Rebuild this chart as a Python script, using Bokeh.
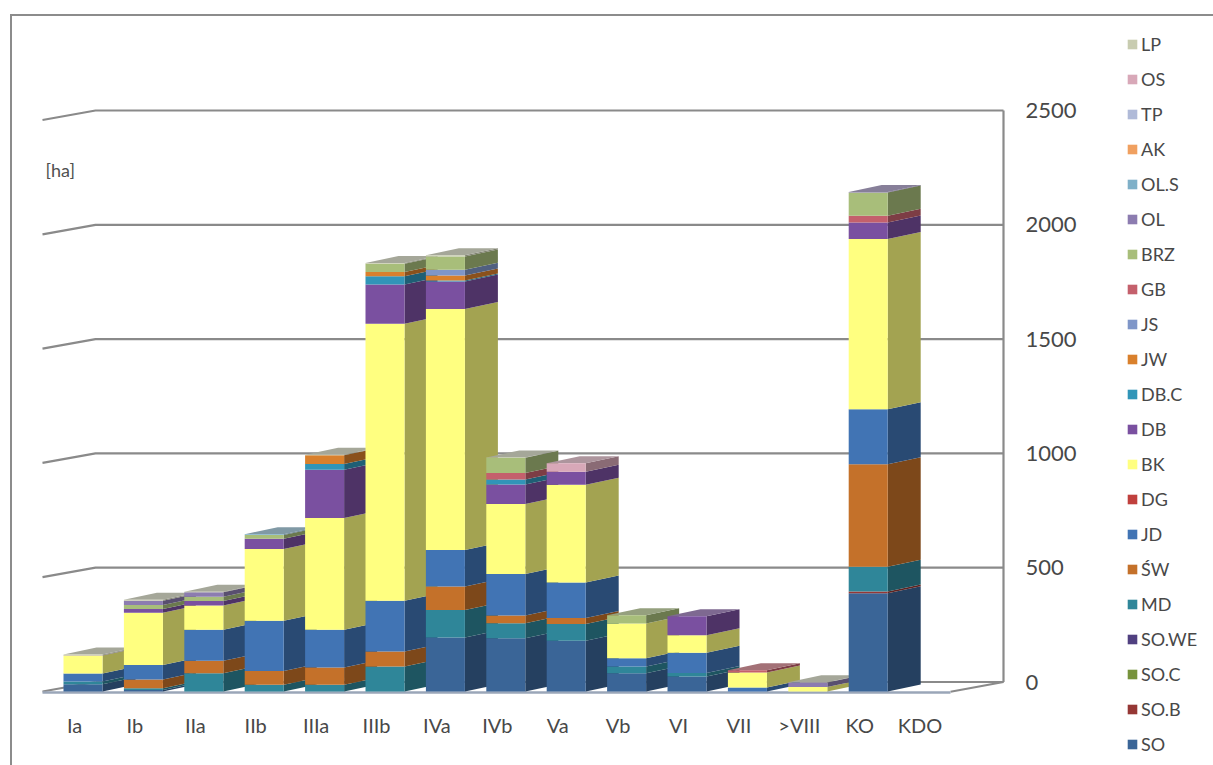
import numpy as np
from bokeh.embed import file_html
from bokeh.models import ColumnDataSource, FixedTicker, Legend, LegendItem, LinearAxis, Range1d
from bokeh.plotting import figure
from bokeh.resources import INLINE

# Age classes along the horizontal axis
categories = ["Ia", "Ib", "IIa", "IIb", "IIIa", "IIIb", "IVa", "IVb", "Va", "Vb", "VI", "VII", ">VIII", "KO", "KDO"]

# Area per species in hectares, one value per age class
SO    = [32, 7, 0, 0, 0, 0, 236, 233, 222, 80, 66, 0, 0, 430, 0]
SO_B  = [0, 0, 0, 0, 0, 0, 0, 0, 0, 0, 0, 0, 0, 7, 0]
SO_C  = [0] * 15
SO_WE = [0] * 15
MD    = [12, 7, 80, 29, 29, 109, 121, 66, 73, 29, 15, 0, 0, 109, 0]
SW    = [0, 39, 54, 61, 76, 66, 102, 34, 26, 0, 0, 0, 0, 448, 0]
JD    = [35, 63, 136, 219, 165, 222, 160, 181, 156, 36, 88, 17, 0, 241, 0]
DG    = [0] * 15
BK    = [78, 229, 106, 314, 489, 1212, 1054, 306, 427, 153, 77, 66, 20, 744, 0]
DB    = [2, 16, 20, 45, 211, 171, 120, 85, 57, 0, 83, 0, 0, 73, 0]
DB_C  = [0, 0, 0, 0, 25, 36, 5, 22, 0, 0, 0, 0, 0, 0, 0]
JW    = [0, 0, 0, 0, 38, 19, 22, 0, 0, 0, 0, 0, 0, 0, 0]
JS    = [0, 0, 0, 0, 0, 0, 25, 0, 0, 0, 0, 0, 0, 0, 0]
GB    = [0, 0, 0, 0, 0, 0, 0, 29, 0, 0, 0, 10, 0, 29, 0]
BRZ   = [0, 17, 19, 17, 0, 36, 58, 66, 0, 36, 0, 0, 0, 102, 0]
OL    = [0, 19, 19, 0, 0, 0, 0, 0, 0, 0, 0, 0, 19, 2, 0]
OL_S  = [0, 0, 0, 3, 0, 0, 0, 0, 0, 0, 0, 0, 0, 0, 0]
AK    = [0] * 15
TP    = [0] * 15
OS    = [0, 0, 0, 0, 0, 0, 0, 0, 38, 0, 0, 0, 0, 0, 0]
LP    = [3, 4, 2, 0, 3, 3, 5, 2, 0, 0, 0, 0, 2, 0, 0]

series = [
    ("SO", SO, "#3A6597"), ("SO.B", SO_B, "#953735"), ("SO.C", SO_C, "#77933C"),
    ("SO.WE", SO_WE, "#504080"), ("MD", MD, "#2F8699"), ("ŚW", SW, "#C4712A"),
    ("JD", JD, "#4174B4"), ("DG", DG, "#C0403D"), ("BK", BK, "#FFFF80"),
    ("DB", DB, "#7A50A0"), ("DB.C", DB_C, "#3195B8"), ("JW", JW, "#D9802C"),
    ("JS", JS, "#7F96C8"), ("GB", GB, "#C4606C"), ("BRZ", BRZ, "#A8BE7A"),
    ("OL", OL, "#8C7CB0"), ("OL.S", OL_S, "#7FB0C8"), ("AK", AK, "#F0A060"),
    ("TP", TP, "#B0BAD8"), ("OS", OS, "#D8A8B8"), ("LP", LP, "#C8CCB0"),
]

axis_ticks = [0, 500, 1000, 1500, 2000, 2500]

# Projection of the pseudo 3D box, in slots along x and hectares along y
PX_PER_SLOT = 60.4
PX_PER_HA = 0.2286
BAR_LEFT = -11 / PX_PER_SLOT
BAR_RIGHT = 28 / PX_PER_SLOT
BAR_DX = 33 / PX_PER_SLOT
BAR_DY = 7 / PX_PER_HA
WALL_DX = 53 / PX_PER_SLOT
WALL_DY = 9.5 / PX_PER_HA
FLOOR_LEFT = -32 / PX_PER_SLOT
FLOOR_RIGHT = 876 / PX_PER_SLOT

# Page position of the frame, in pixels; it fills the page inside the open border
PAGE_X, PAGE_Y = 10, 14
BORDER_PX = 2
FRAME_L, FRAME_T = PAGE_X + BORDER_PX, PAGE_Y + BORDER_PX
FRAME_R, FRAME_B = 1213, 765
BASE_X, BASE_Y = 74, 691
BORDER = f"{BORDER_PX}px solid #8C8C8C"


def shade(color, factor):
    r, g, b = (int(color[i:i + 2], 16) for i in (1, 3, 5))
    return "#%02X%02X%02X" % (int(r * factor), int(g * factor), int(b * factor))


def toward_grey(color, share):
    r, g, b = (int(color[i:i + 2], 16) for i in (1, 3, 5))
    grey = 130
    return "#%02X%02X%02X" % tuple(int(c * (1 - share) + grey * share) for c in (r, g, b))


p = figure(
    frame_width=FRAME_R - FRAME_L, frame_height=FRAME_B - FRAME_T,
    min_border=0,
    x_range=Range1d((FRAME_L - BASE_X) / PX_PER_SLOT, (FRAME_R - BASE_X) / PX_PER_SLOT),
    y_range=Range1d((BASE_Y - FRAME_B) / PX_PER_HA, (BASE_Y - FRAME_T) / PX_PER_HA),
    output_backend="svg", toolbar_location=None, outline_line_color=None,
    background_fill_color="white", border_fill_color="white",
    margin=(PAGE_Y, 0, 0, PAGE_X), styles={"border-left": BORDER, "border-top": BORDER},
    x_axis_type=None, y_axis_type=None,
)
p.grid.visible = False

# Category labels run along the bottom, pinned just under the floor of the box
slots = np.arange(len(categories))
xax = LinearAxis(ticker=FixedTicker(ticks=list(slots)), fixed_location=(BASE_Y - 696) / PX_PER_HA)
xax.major_label_overrides = {int(i): c for i, c in enumerate(categories)}
xax.axis_line_color = None
xax.major_tick_line_color = None
xax.minor_tick_line_color = None
xax.major_label_standoff = 10
xax.major_label_text_font = "Lato"
xax.major_label_text_font_size = "20px"
xax.major_label_text_color = "#484848"
p.add_layout(xax, "below")

# The value axis belongs to the back wall, which sits higher than the bars' front edge
p.extra_y_ranges["wall"] = Range1d(p.y_range.start - WALL_DY, p.y_range.end - WALL_DY)
yax = LinearAxis(y_range_name="wall", ticker=FixedTicker(ticks=axis_ticks),
                 fixed_location=(1005 - BASE_X) / PX_PER_SLOT)
yax.axis_line_color = None
yax.major_tick_line_color = None
yax.minor_tick_line_color = None
yax.major_label_standoff = 14
yax.major_label_text_font = "Lato"
yax.major_label_text_font_size = "22px"
yax.major_label_text_color = "#484848"
p.add_layout(yax, "right")

# Walls and floor of the box
wall_xs = [[FLOOR_LEFT, FLOOR_LEFT + WALL_DX, FLOOR_RIGHT + WALL_DX] for _ in axis_ticks]
wall_ys = [[t, t + WALL_DY, t + WALL_DY] for t in axis_ticks]
p.multi_line(wall_xs[1:], wall_ys[1:], line_color="#8A8A8A", line_width=2.2)
p.line([FLOOR_LEFT + WALL_DX, FLOOR_RIGHT + WALL_DX], [WALL_DY, WALL_DY], line_color="#8A8A8A", line_width=2)
p.line([FLOOR_RIGHT + WALL_DX] * 2, [WALL_DY, axis_ticks[-1] + WALL_DY], line_color="#8A8A8A", line_width=2.2)
p.line([FLOOR_LEFT, FLOOR_LEFT + WALL_DX], [0, WALL_DY], line_color="#8A8A8A", line_width=2)
p.line([FLOOR_RIGHT, FLOOR_RIGHT + WALL_DX], [-1, WALL_DY], line_color="#8A8A8A", line_width=2)
p.line([FLOOR_LEFT, FLOOR_RIGHT], [-4, -4], line_color="#9AA6B8", line_width=2.5)

# Stack the series per age class
values = np.array([s[1] for s in series], dtype=float)
tops = np.cumsum(values, axis=0)
bottoms = tops - values

# Side faces go first, then roofs, then fronts, so each bar hides its left neighbour's side
side_xs, side_ys, side_colors = [], [], []
for j, (_, _, color) in enumerate(series):
    for i in slots:
        if values[j, i] > 0:
            r = i + BAR_RIGHT
            side_xs.append([r, r + BAR_DX, r + BAR_DX, r])
            side_ys.append([bottoms[j, i], bottoms[j, i] + BAR_DY, tops[j, i] + BAR_DY, tops[j, i]])
            side_colors.append(shade(color, 0.64))
p.patches(side_xs, side_ys, fill_color=side_colors, line_color=None)

roof_xs, roof_ys, roof_colors = [], [], []
for i in slots:
    filled = np.nonzero(values[:, i])[0]
    if len(filled):
        last = filled[-1]
        l, r, t = i + BAR_LEFT, i + BAR_RIGHT, tops[last, i]
        roof_xs.append([l, r, r + BAR_DX, l + BAR_DX])
        roof_ys.append([t, t, t + BAR_DY, t + BAR_DY])
        roof_colors.append(toward_grey(series[last][2], 0.5))
p.patches(roof_xs, roof_ys, fill_color=roof_colors, line_color=None)

items = []
for j, (name, _, color) in enumerate(series):
    src = ColumnDataSource(dict(left=slots + BAR_LEFT, right=slots + BAR_RIGHT, bottom=bottoms[j], top=tops[j]))
    r = p.quad(left="left", right="right", bottom="bottom", top="top", source=src,
               fill_color=color, line_color=None)
    items.append(LegendItem(label=name, renderers=[r]))

# Legend reads from the top of the stack downwards
legend = Legend(
    items=items[::-1], location=(1126 - FRAME_L, FRAME_B - 755), orientation="vertical",
    background_fill_alpha=0, border_line_color=None, padding=0, margin=0,
    spacing=13, label_height=20, glyph_width=12, glyph_height=12, label_standoff=3,
    label_text_font="Lato", label_text_font_size="18px", label_text_color="#484848",
)
p.add_layout(legend, "center")

# Unit note on the wall
p.text(x=[FLOOR_LEFT + 3 / PX_PER_SLOT], y=[(BASE_Y - 169) / PX_PER_HA], text=["[ha]"], text_font_size="18px",
       text_color="#505050", text_baseline="middle", text_font={"value": "Lato"})

open("out.html", "w").write(file_html(p, INLINE))
